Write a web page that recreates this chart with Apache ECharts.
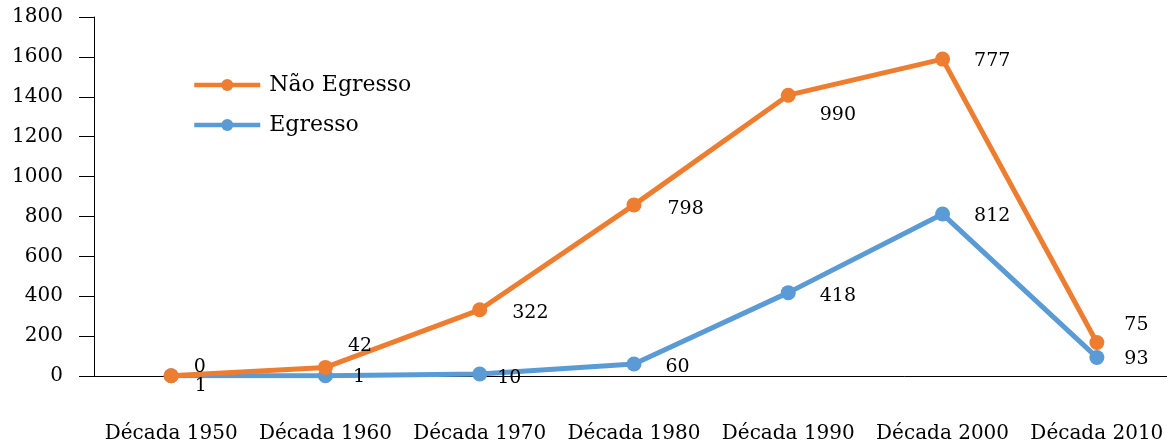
<!DOCTYPE html>
<html>
<head>
<meta charset="utf-8">
<script src="https://cdn.jsdelivr.net/npm/echarts@6/dist/echarts.min.js"></script>
<style>
  html, body { margin: 0; padding: 0; background: #fff; overflow: hidden; }
  /* plot area runs slightly past the right edge of the window */
  #chart { width: 1174px; height: 446px; }
</style>
</head>
<body>
<div id="chart"></div>
<script>
// Decades on the category axis
const decades = ['Década 1950', 'Década 1960', 'Década 1970', 'Década 1980', 'Década 1990', 'Década 2000', 'Década 2010'];
// Counts per decade (stacked: Egresso at the bottom, Não Egresso on top)
const egresso = [1, 1, 10, 60, 418, 812, 93];
const naoEgresso = [0, 42, 322, 798, 990, 777, 75];
// Value axis ticks
const yTicks = { min: 0, max: 1800, step: 200 };

// Per-point label nudges [dx, dy] so labels sit clear of the lines
const naoLabelShift = [[15, -9], [15, -21], [25, 3], [26, 4], [24, 20], [24, 2], [20, -17]];
const egrLabelShift = [[16, 10], [20, 1], [10, 4], [24, 3], [24, 3], [24, 2], [20, 2]];

const FONT = 'DejaVu Serif';
const ORANGE = '#ED7D31';
const BLUE = '#5B9BD5';

function withLabels(values, shifts) {
  return values.map((v, i) => ({
    value: v,
    label: { offset: shifts[i] }
  }));
}

const chart = echarts.init(document.getElementById('chart'), null, { renderer: 'canvas' });

const lineLabel = {
  show: true,
  position: 'right',
  distance: 0,
  fontFamily: FONT,
  fontSize: 19,
  color: '#000'
};

chart.setOption({
  animation: false,
  backgroundColor: '#fff',
  textStyle: { fontFamily: FONT, color: '#000' },
  grid: { left: 94, top: 17, right: 0, bottom: 70, containLabel: false },
  legend: {
    data: ['Não Egresso', 'Egresso'],
    orient: 'vertical',
    left: 187,
    top: 69,
    itemWidth: 66,
    itemHeight: 15,
    itemGap: 18,
    lineStyle: { width: 4.5 },
    textStyle: { fontFamily: FONT, fontSize: 22, color: '#000', padding: [0, 0, 0, 4] }
  },
  xAxis: {
    type: 'category',
    data: decades,
    boundaryGap: true,
    axisLine: { show: true, lineStyle: { color: '#000', width: 1 } },
    axisTick: { show: false },
    axisLabel: { fontFamily: FONT, fontSize: 20, color: '#000', margin: 48, interval: 0 },
    splitLine: { show: false }
  },
  yAxis: {
    type: 'value',
    min: yTicks.min,
    max: yTicks.max,
    interval: yTicks.step,
    axisLine: { show: true, lineStyle: { color: '#000', width: 1 } },
    axisTick: { show: true, inside: false, length: 15, lineStyle: { color: '#000' } },
    axisLabel: { fontFamily: FONT, fontSize: 20, color: '#000', margin: 31, formatter: v => String(v) },
    splitLine: { show: false }
  },
  series: [
    {
      name: 'Egresso',
      type: 'line',
      stack: 'total',
      data: withLabels(egresso, egrLabelShift),
      color: BLUE,
      lineStyle: { color: BLUE, width: 5 },
      itemStyle: { color: BLUE },
      symbol: 'circle',
      symbolSize: 15,
      label: lineLabel,
      z: 2
    },
    {
      name: 'Não Egresso',
      type: 'line',
      stack: 'total',
      data: withLabels(naoEgresso, naoLabelShift),
      color: ORANGE,
      lineStyle: { color: ORANGE, width: 5 },
      itemStyle: { color: ORANGE },
      symbol: 'circle',
      symbolSize: 15,
      label: lineLabel,
      z: 3
    }
  ]
});
</script>
</body>
</html>
